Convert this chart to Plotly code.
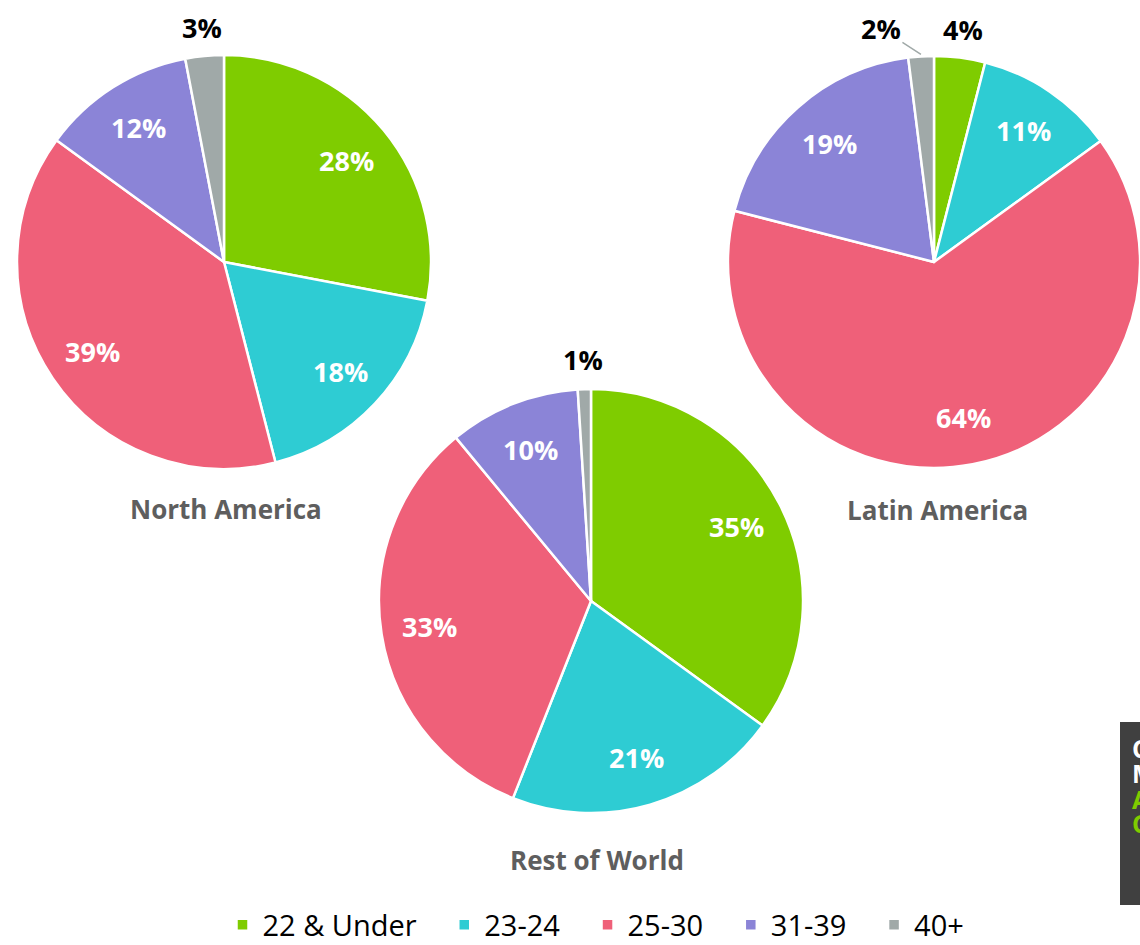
import math
import plotly.graph_objects as go

age_groups = ["22 & Under", "23-24", "25-30", "31-39", "40+"]
colors = ["#7FCC00", "#2ECCD3", "#EF6079", "#8B84D7", "#A0A9A8"]

north_america = [28, 18, 39, 12, 3]
latin_america = [4, 11, 64, 19, 2]
rest_of_world = [35, 21, 33, 10, 1]

W, H = 1140, 945


def px(x):
    return x / W


def py(y):
    return 1 - y / H


fig = go.Figure()


def label(text, x, y, color, **kw):
    fig.add_annotation(text=text, x=px(x), y=py(y), xref="paper", yref="paper",
                       xanchor="center", yanchor="middle",
                       font=dict(size=27, color=color, family="Open Sans"), **kw)


def add_pie(values, name, cx, cy, r, outside, leader=None):
    x0, x1 = cx - r, min(cx + r, W)
    y0, y1 = cy - r, cy + r
    fig.add_trace(go.Pie(
        labels=[g + "\u00a0\u00a0\u00a0" for g in age_groups], values=values, name=name,
        domain=dict(x=[px(x0), px(x1)], y=[py(y1), py(y0)]),
        sort=False, direction="clockwise", rotation=0,
        marker=dict(colors=colors, line=dict(color="white", width=2.5)),
        textinfo="none", hovertemplate="%{label}: %{percent:.0%}<extra>" + name + "</extra>",
    ))
    # centre / radius of the pie inside its (possibly clipped) domain
    rr = min(x1 - x0, y1 - y0) / 2
    ccx = (x0 + x1) / 2
    total = sum(values)
    cum = 0
    for i, v in enumerate(values):
        theta = 2 * math.pi * (cum + v / 2) / total
        cum += v
        dx, dy = math.sin(theta), -math.cos(theta)
        pct = "<b>%d%%</b>" % round(100 * v / total)
        if i in outside:
            if leader == i:
                label(pct, ccx + rr * 1.01 * dx, cy + rr * 1.01 * dy, "black",
                      showarrow=True, arrowhead=0, arrowwidth=1.5, arrowcolor="#A0A9A8",
                      ax=-40, ay=-26)
            else:
                label(pct, ccx + rr * 1.14 * dx, cy + rr * 1.14 * dy, "black", showarrow=False)
        else:
            label(pct, ccx + rr * 0.77 * dx, cy + rr * 0.77 * dy, "white", showarrow=False)


add_pie(north_america, "North America", 224, 262, 207, outside=[4])
add_pie(latin_america, "Latin America", 935, 262, 207, outside=[0, 4], leader=4)
add_pie(rest_of_world, "Rest of World", 591, 601, 212, outside=[4])

titles = [("North America", 226, 509), ("Latin America", 937, 510), ("Rest of World", 597, 860)]
for text, tx, ty in titles:
    fig.add_annotation(text="<b>%s</b>" % text, x=px(tx), y=py(ty), xref="paper", yref="paper",
                       xanchor="center", yanchor="middle", showarrow=False,
                       font=dict(size=26, color="#5E5E5E", family="Open Sans"))

# cropped side panel at the right edge
fig.add_shape(type="rect", xref="paper", yref="paper", x0=px(1120), x1=1.02, y0=py(905), y1=py(722),
              fillcolor="#404040", line=dict(width=0), layer="below")
side = [("CLICK", "white", 748), ("MORE", "white", 773), ("ABOUT", "#7FCC00", 799), ("CAREERS", "#7FCC00", 823)]
for text, col, ty in side:
    fig.add_annotation(text="<b>%s</b>" % text, x=px(1130), y=py(ty), xref="paper", yref="paper",
                       xanchor="left", yanchor="middle", showarrow=False,
                       font=dict(size=25, color=col, family="Open Sans"))

fig.update_layout(
    width=W, height=H, margin=dict(l=0, r=0, t=0, b=0, autoexpand=False),
    paper_bgcolor="white", plot_bgcolor="white",
    showlegend=True,
    legend=dict(orientation="h", x=px(607), xanchor="center", y=py(925), yanchor="middle",
                font=dict(size=29, color="black", family="Open Sans"), itemwidth=30,
                traceorder="normal"),
)

fig.write_html(
    "out.html",
    config={"displayModeBar": False},
    post_script="document.body.style.margin='0';document.body.style.overflow='hidden';"
                "document.documentElement.style.overflow='hidden';",
)
